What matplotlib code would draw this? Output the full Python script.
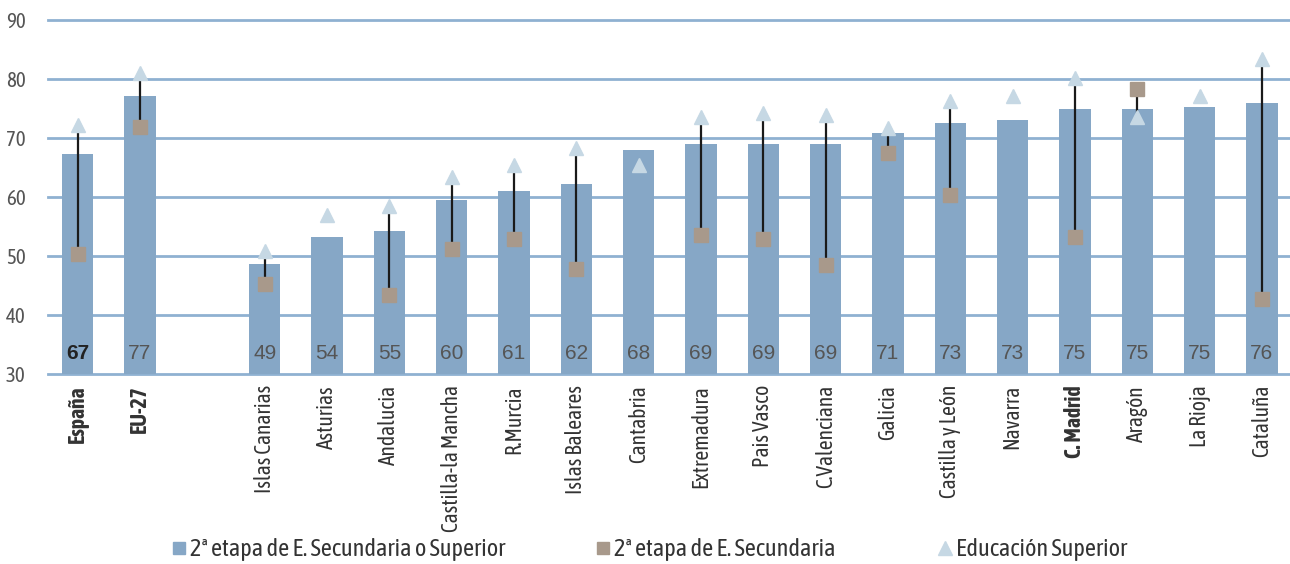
import numpy as np
import matplotlib
matplotlib.use("Agg")
import matplotlib.pyplot as plt
from matplotlib.lines import Line2D
from matplotlib import font_manager

# buscar una fuente estrecha (con negrita si es posible)
pesos = {}
for f in font_manager.fontManager.ttflist:
    if 'Narrow' in f.name or 'Condensed' in f.name:
        pesos.setdefault(f.name, set()).add(str(f.weight))
con_negrita = [n for n, w in pesos.items() if 'bold' in w or '700' in w]
if con_negrita:
    fam_e, st_e, fam_b = [con_negrita[0], 'DejaVu Sans'], 'normal', [con_negrita[0], 'DejaVu Sans']
elif pesos:
    fam_e, st_e, fam_b = [list(pesos)[0], 'DejaVu Sans'], 'normal', ['Liberation Sans', 'DejaVu Sans']
else:
    fam_e, st_e, fam_b = ['DejaVu Sans'], 'condensed', ['DejaVu Sans']

plt.rcParams['font.family'] = ['Liberation Sans', 'DejaVu Sans']

# datos
regiones = ["España", "EU-27", "", "Islas Canarias", "Asturias", "Andalucia",
            "Castilla-la Mancha", "R.Murcia", "Islas Baleares", "Cantabria",
            "Extremadura", "Pais Vasco", "C.Valenciana", "Galicia",
            "Castilla y León", "Navarra", "C. Madrid", "Aragón", "La Rioja", "Cataluña"]
sec_o_sup = [67.2, 77.1, np.nan, 48.6, 53.2, 54.2, 59.5, 61.0, 62.2, 68.0,
             69.0, 69.0, 69.0, 70.8, 72.5, 73.0, 74.9, 74.9, 75.2, 75.9]
secundaria = [50.3, 71.9, np.nan, 45.3, np.nan, 43.3, 51.2, 52.9, 47.8, np.nan,
              53.5, 52.9, 48.5, 67.5, 60.3, np.nan, 53.2, 78.3, np.nan, 42.7]
superior = [72.2, 81.0, np.nan, 50.8, 56.9, 58.5, 63.4, 65.4, 68.3, 65.4,
            73.6, 74.2, 73.9, 71.7, 76.3, 77.0, 80.2, 73.6, 77.1, 83.4]
etiquetas = ["67", "77", "", "49", "54", "55", "60", "61", "62", "68",
             "69", "69", "69", "71", "73", "73", "75", "75", "75", "76"]
negrita = ["España", "EU-27", "C. Madrid"]

c_barra = '#86a7c6'
c_sec = '#a8998b'
c_sup = '#c6d8e4'
c_grid = '#8fb1d1'

fig = plt.figure(figsize=(12.9, 5.64), dpi=100)
ax = fig.add_axes([0.037, 0.337, 0.963, 0.628])

x = np.arange(len(regiones))
ax.set_xlim(-0.48, len(regiones) - 0.55)
ax.set_ylim(30, 90)

# lineas de la rejilla
for v in range(30, 100, 10):
    ax.axhline(v, color=c_grid, lw=2, zorder=0, clip_on=False)

ax.bar(x, sec_o_sup, width=0.5, bottom=0, color=c_barra, zorder=2)

# lineas entre secundaria y superior
for xi, a, b in zip(x, secundaria, superior):
    if not np.isnan(a) and not np.isnan(b):
        ax.plot([xi, xi], [a, b], color='#1a1a1a', lw=1.6, zorder=3)

ax.plot(x, secundaria, 's', color=c_sec, ms=9.5, ls='none', zorder=4)
ax.plot(x, superior, '^', color=c_sup, ms=10, ls='none', zorder=4)

# valores dentro de las barras
for xi, t, r in zip(x, etiquetas, regiones):
    if r == "España":
        ax.text(xi, 33.4, t, ha='center', va='center', fontsize=15, color='#222222', fontweight='bold', zorder=5)
    else:
        ax.text(xi, 33.4, t, ha='center', va='center', fontsize=15, color='#555555', zorder=5)

ax.set_xticks(x)
ax.set_xticklabels(regiones, rotation=90, fontsize=15.5, color='#333333', family=fam_e, stretch=st_e)
for lab in ax.get_xticklabels():
    if lab.get_text() in negrita:
        lab.set_fontweight('bold')
        lab.set_family(fam_b)
ax.set_yticks(range(30, 100, 10))
ax.set_yticklabels([str(v) for v in range(30, 100, 10)], family=fam_e, stretch=st_e)
ax.tick_params(axis='y', length=0, pad=16, labelsize=15, labelcolor='#555555')
ax.tick_params(axis='x', length=0, pad=8)
for s in ax.spines.values():
    s.set_visible(False)

# leyenda
entradas = [
    (Line2D([], [], marker='s', color=c_barra, ls='none', ms=9), "2ª etapa de E. Secundaria o Superior", 0.133),
    (Line2D([], [], marker='s', color=c_sec, ls='none', ms=9), "2ª etapa de E. Secundaria", 0.462),
    (Line2D([], [], marker='^', color=c_sup, ls='none', ms=10), "Educación Superior", 0.727),
]
for h, t, px in entradas:
    fig.legend([h], [t], loc='center left', bbox_to_anchor=(px, 0.025), frameon=False,
               prop={'family': fam_e, 'stretch': st_e, 'size': 17.5},
               handletextpad=0.15, handlelength=0.6, borderpad=0, borderaxespad=0,
               labelcolor='#333333')

fig.savefig('out.png', dpi=100)
